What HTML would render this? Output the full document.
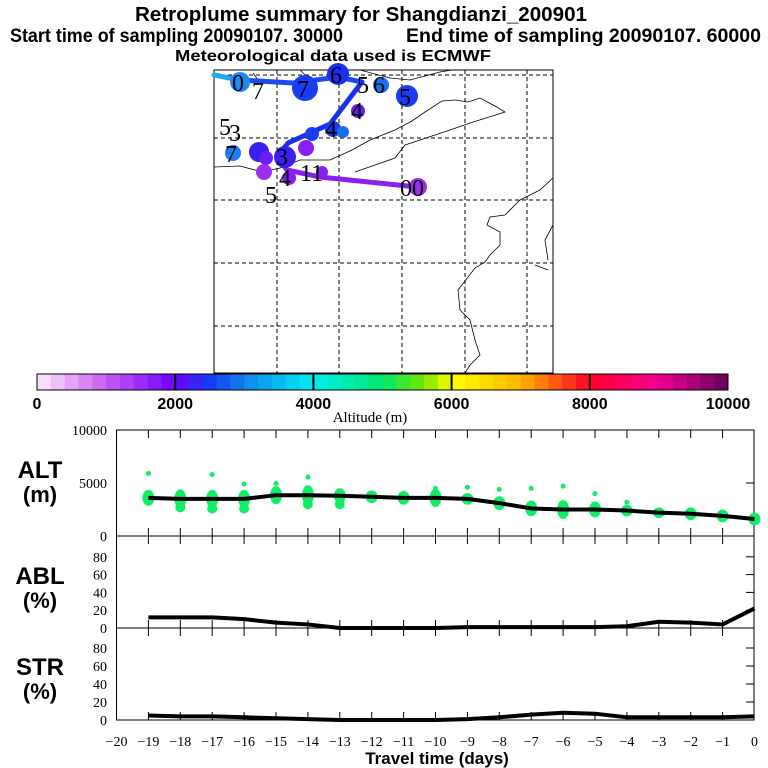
<!DOCTYPE html>
<html><head><meta charset="utf-8"><style>
html,body{margin:0;padding:0;background:#fff;}
svg{display:block;font-family:"Liberation Sans",sans-serif;}
.tk{font-family:"Liberation Serif",serif;font-size:14px;}
</style></head><body>
<svg id="s" width="768" height="768" viewBox="0 0 768 768" xmlns="http://www.w3.org/2000/svg">
<text x="135" y="21" font-size="20" font-weight="bold" textLength="452" lengthAdjust="spacingAndGlyphs">Retroplume summary for Shangdianzi_200901</text>
<text x="10" y="42" font-size="19" font-weight="bold" textLength="333" lengthAdjust="spacingAndGlyphs">Start time of sampling 20090107. 30000</text>
<text x="406" y="42" font-size="19" font-weight="bold" textLength="355" lengthAdjust="spacingAndGlyphs">End time of sampling 20090107. 60000</text>
<text x="175" y="61" font-size="16" font-weight="bold" textLength="316" lengthAdjust="spacingAndGlyphs">Meteorological data used is ECMWF</text>

<g id="map">
<rect x="214" y="70" width="339" height="303" fill="#fff" stroke="#000"/>
<g stroke="#000" stroke-dasharray="4,3" stroke-width="1">
<line x1="277" y1="70" x2="277" y2="373"/><line x1="339" y1="70" x2="339" y2="373"/><line x1="402" y1="70" x2="402" y2="373"/><line x1="465" y1="70" x2="465" y2="373"/><line x1="527" y1="70" x2="527" y2="373"/>
<line x1="214" y1="75" x2="553" y2="75"/><line x1="214" y1="138" x2="553" y2="138"/><line x1="214" y1="200" x2="553" y2="200"/><line x1="214" y1="263" x2="553" y2="263"/><line x1="214" y1="326" x2="553" y2="326"/>
</g>
<g fill="none" stroke="#000" stroke-width="0.8">
<path d="M214,167 L240,166 L262,172 L280,168 L300,160 L330,160 L352,150 L370,140 L395,130 L412,121 L425,112 L442,101 L455,100 L468,102 L480,98 L495,106 L505,112 L486,118 L470,123 L450,130 L420,140 L405,145 L395,158 L375,165 L355,172"/>
<path d="M253,73 L258,80 L250,83 M300,70 L310,80 M360,70 L390,78 L410,80 L425,76 L440,72 L452,70"/>
<path d="M553,178 L540,190 L530,195 L520,200 L505,215 L490,217 L487,225 L500,232 L500,245 L490,255 L485,262 L475,268 L458,290 L460,310 L470,320 L475,340 L480,355 L470,365 L465,373"/>
<path d="M553,225 L545,240 L548,260 M535,265 L548,270"/>
</g>
<g fill="none" stroke-width="5" stroke-linecap="round">
<polyline points="214,75 240,80" stroke="#1fa8f0"/>
<polyline points="240,80 293,83 338,77 362,82" stroke="#1a4cf2"/>
<polyline points="362,82 330,124 288,143 277,157" stroke="#1a2ff0"/>
<polyline points="277,157 287,170 320,177 417,187" stroke="#8a1ff0"/>
</g>
<g font-family="Liberation Serif,serif" font-size="24">
<circle cx="240" cy="82" r="10" fill="#1a8cf0"/><text x="232" y="91">0</text>
<circle cx="305" cy="88" r="13" fill="#1a3cf2"/><text x="297" y="97">7</text><text x="252" y="99">7</text>
<circle cx="338" cy="74" r="11" fill="#1a2ff0"/><text x="330" y="83">6</text>
<circle cx="381" cy="85" r="8" fill="#1a6cf0"/><text x="373" y="93">6</text><text x="357" y="93">5</text>
<circle cx="407" cy="96" r="11" fill="#1a3cf2"/><text x="399" y="105">5</text>
<circle cx="358" cy="111" r="7" fill="#6a1ff0"/><text x="351" y="119">4</text>
<circle cx="333" cy="129" r="8" fill="#1a3cf2"/><text x="325" y="137">4</text>
<circle cx="343" cy="132" r="6" fill="#1a6cf0"/>
<circle cx="312" cy="134" r="7" fill="#1a3cf2"/>
<circle cx="233" cy="153" r="8" fill="#1a7cf0"/><text x="225" y="162">7</text>
<text x="219" y="135">5</text><text x="229" y="141">3</text>
<circle cx="259" cy="152" r="10" fill="#3a1ff0"/>
<circle cx="266" cy="158" r="7" fill="#6a1ff0"/>
<circle cx="285" cy="157" r="11" fill="#3a1ff0"/><text x="276" y="165">3</text>
<circle cx="306" cy="148" r="8" fill="#8a1ff0"/>
<circle cx="264" cy="172" r="8" fill="#9a2ff0"/>
<circle cx="289" cy="178" r="7" fill="#8a1ff0"/><text x="279" y="186">4</text>
<circle cx="322" cy="172" r="6" fill="#8a1ff0"/><text x="300" y="181">11</text>
<circle cx="418" cy="187" r="9" fill="#9a2ff0"/><text x="400" y="196">00</text>
<text x="265" y="203">5</text>
</g>
</g>

<g id="cbar"></g>
<text x="370" y="422" text-anchor="middle" font-family="Liberation Serif,serif" font-size="15">Altitude (m)</text>

<g id="panels"></g>
<text x="40" y="478" font-size="24" font-weight="bold" text-anchor="middle">ALT</text>
<text x="40" y="502" font-size="22" font-weight="bold" text-anchor="middle">(m)</text>
<text x="40" y="584" font-size="24" font-weight="bold" text-anchor="middle">ABL</text>
<text x="40" y="608" font-size="22" font-weight="bold" text-anchor="middle">(%)</text>
<text x="40" y="675" font-size="24" font-weight="bold" text-anchor="middle">STR</text>
<text x="40" y="699" font-size="22" font-weight="bold" text-anchor="middle">(%)</text>
<text x="437" y="764" font-size="17" font-weight="bold" text-anchor="middle">Travel time (days)</text>
</svg>
<script>
var days=[-19,-18,-17,-16,-15,-14,-13,-12,-11,-10,-9,-8,-7,-6,-5,-4,-3,-2,-1,0];
var altMean=[3600,3500,3500,3500,3850,3850,3800,3700,3600,3600,3500,3100,2600,2500,2500,2400,2200,2100,1900,1600];
var altSpread=[1500,1800,1700,1700,1700,1900,1400,1200,1300,1700,1100,1300,1500,1800,1500,1100,1000,1200,1200,1200];
var altLow=[null,2700,2600,2600,null,3000,3000,null,null,null,null,null,null,null,null,null,null,null,null,null];
var altOutlier=[5900,null,5800,4900,4950,5550,null,null,null,4500,4600,4400,4500,4700,4000,3200,null,null,null,null];
var ablVals=[12,12,12,10,6,4,0,0,0,0,1,1,1,1,1,2,7,6,4,22];
var strVals=[5,4,4,3,2,1,0,0,0,0,1,3,6,8,7,3,3,3,3,4];
var xTicks=[-20,-19,-18,-17,-16,-15,-14,-13,-12,-11,-10,-9,-8,-7,-6,-5,-4,-3,-2,-1,0];
var altTicks=[0,5000,10000];
var pctTicks=[0,20,40,60,80];
var cbarLabels=[0,2000,4000,6000,8000,10000];
var cbarStops=[[0,[255,235,255]],[1000,[200,90,240]],[2000,[110,0,255]],[2500,[20,60,240]],[3000,[20,130,240]],[4000,[0,240,240]],[5000,[0,230,110]],[5600,[120,230,0]],[6000,[255,255,0]],[7000,[255,180,0]],[8000,[255,0,40]],[9000,[240,0,150]],[10000,[100,0,90]]];
var NS='http://www.w3.org/2000/svg';
function mk(p,t,a){var e=document.createElementNS(NS,t);for(var k in a)e.setAttribute(k,a[k]);p.appendChild(e);return e;}
function X(d){return 116.5+(d+20)*31.9;}
function YA(v){return 536-v*(106/10000);}
function YB(v){return 628-v*(89/100);}
function YS(v){return 720-v*(90/100);}
function col(v){for(var i=1;i<cbarStops.length;i++){if(v<=cbarStops[i][0]){var a=cbarStops[i-1],b=cbarStops[i],t=(v-a[0])/(b[0]-a[0]);return 'rgb('+a[1].map(function(c,j){return Math.round(c+(b[1][j]-c)*t);}).join(',')+')';}}return 'rgb(100,0,90)';}
var cb=document.getElementById('cbar');
function CX(v){return 37+v*(691/10000);}
for(var v=0;v<10000;v+=200){var r=mk(cb,'rect',{x:CX(v),y:374,width:691*200/10000+0.3,height:16,fill:col(v+100)});
}
mk(cb,'rect',{x:37,y:374,width:691,height:16,fill:'none',stroke:'#000'});
cbarLabels.forEach(function(v){if(v>0&&v<10000)mk(cb,'line',{x1:CX(v),y1:374,x2:CX(v),y2:390,stroke:'#000','stroke-width':2});
var t=mk(cb,'text',{x:CX(v),y:409,'text-anchor':'middle','font-size':16,'font-weight':'bold'});t.textContent=v;
});
var P=document.getElementById('panels');
function frame(top,bot,ticks,fy){mk(P,'rect',{x:116.5,y:top,width:637.5,height:bot-top,fill:'none',stroke:'#000'});
xTicks.forEach(function(d){if(d>-20&&d<0){mk(P,'line',{x1:X(d),y1:top,x2:X(d),y2:top+8,stroke:'#000'});mk(P,'line',{x1:X(d),y1:bot,x2:X(d),y2:bot-8,stroke:'#000'});}});
ticks.forEach(function(v){var y=fy(v);mk(P,'line',{x1:746,y1:y,x2:754,y2:y,stroke:'#000'});
var t=mk(P,'text',{x:107,y:y+5,'text-anchor':'end','class':'tk'});t.textContent=v;
});}
frame(430,536,altTicks,YA);frame(536,628,pctTicks,YB);frame(628,720,pctTicks,YS);
days.forEach(function(d,i){var e=mk(P,'ellipse',{cx:X(d),cy:YA(altMean[i]),rx:6,ry:altSpread[i]*106/10000/2,fill:'#11ee66'});

if(altLow[i]!==null){var l=mk(P,'ellipse',{cx:X(d),cy:YA(altLow[i]),rx:5,ry:5,fill:'#11ee66'});
}
if(altOutlier[i]!==null){var c=mk(P,'circle',{cx:X(d),cy:YA(altOutlier[i]),r:2.5,fill:'#11ee66'});
}});
function line(vals,fy,name){var pts=days.map(function(d,i){return X(d)+','+fy(vals[i]);}).join(' ');
var l=mk(P,'polyline',{points:pts,fill:'none',stroke:'#000','stroke-width':4,'stroke-linejoin':'round'});
}
line(altMean,YA,'alt-mean-line');line(ablVals,YB,'abl-line');line(strVals,YS,'str-line');
xTicks.forEach(function(d){var t=mk(P,'text',{x:X(d),y:746,'text-anchor':'middle','class':'tk'});t.textContent=(d<0?'\u2212'+(-d):d);
});
</script>
</body></html>
